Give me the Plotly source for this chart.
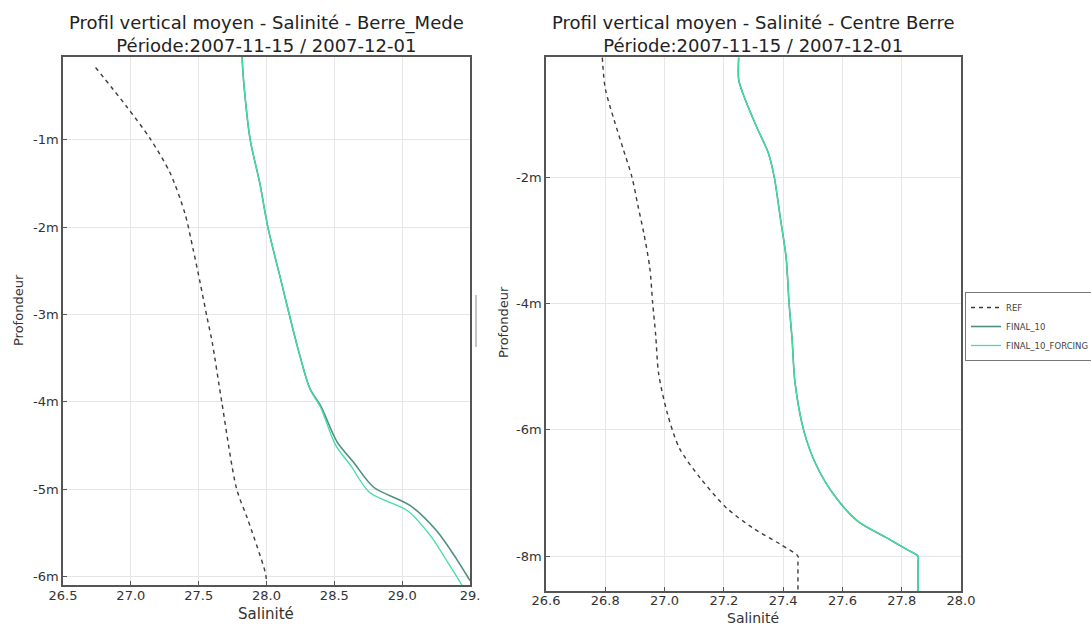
import plotly.graph_objects as go

# ---------------- data ----------------
# Left panel: Berre_Mede
mede_ref_sal = [26.74, 26.97, 27.14, 27.29, 27.40, 27.46, 27.51, 27.56, 27.60, 27.67, 27.78, 27.86, 27.99, 28.00]
mede_ref_dep = [-0.17, -0.62, -0.98, -1.38, -1.85, -2.26, -2.63, -3.02, -3.32, -4.00, -5.00, -5.34, -5.95, -6.05]

mede_f10_sal = [27.82, 27.83, 27.88, 27.95, 28.01, 28.10, 28.23, 28.32, 28.40, 28.52, 28.64, 28.79, 29.06, 29.26, 29.40, 29.50]
mede_f10_dep = [-0.05, -0.30, -1.00, -1.49, -2.00, -2.57, -3.38, -3.85, -4.05, -4.46, -4.69, -4.98, -5.19, -5.49, -5.80, -6.05]

mede_ff_sal = [27.82, 27.83, 27.88, 27.95, 28.01, 28.10, 28.23, 28.32, 28.40, 28.51, 28.62, 28.76, 29.04, 29.22, 29.34, 29.44]
mede_ff_dep = [-0.05, -0.30, -1.00, -1.49, -2.00, -2.57, -3.38, -3.85, -4.07, -4.50, -4.73, -5.04, -5.25, -5.56, -5.85, -6.10]

# Right panel: Centre Berre
centre_ref_sal = [26.79, 26.80, 26.83, 26.86, 26.89, 26.91, 26.93, 26.95, 26.96, 26.97, 26.98, 27.01, 27.05, 27.12, 27.21, 27.30, 27.39, 27.45, 27.45, 27.45]
centre_ref_dep = [-0.11, -0.60, -1.10, -1.55, -2.00, -2.45, -2.89, -3.43, -4.00, -4.50, -5.11, -5.75, -6.29, -6.76, -7.24, -7.56, -7.81, -8.00, -8.10, -8.55]

centre_f10_sal = [27.25, 27.25, 27.27, 27.31, 27.35, 27.37, 27.39, 27.41, 27.42, 27.43, 27.44, 27.47, 27.51, 27.57, 27.65, 27.75, 27.82, 27.855, 27.855, 27.855]
centre_f10_dep = [-0.11, -0.46, -0.75, -1.20, -1.62, -2.00, -2.63, -3.27, -4.00, -4.55, -5.25, -6.02, -6.54, -7.02, -7.44, -7.71, -7.90, -8.00, -8.10, -8.55]

centre_ff_sal = centre_f10_sal
centre_ff_dep = centre_f10_dep

series_names = ["REF", "FINAL_10", "FINAL_10_FORCING"]

left_xtickvals = [26.5, 27.0, 27.5, 28.0, 28.5, 29.0, 29.5]
left_xticktext = ["26.5", "27.0", "27.5", "28.0", "28.5", "29.0", "29."]
left_ytickvals = [-1, -2, -3, -4, -5, -6]
left_yticktext = ["-1m", "-2m", "-3m", "-4m", "-5m", "-6m"]

right_xtickvals = [26.6, 26.8, 27.0, 27.2, 27.4, 27.6, 27.8, 28.0]
right_xticktext = ["26.6", "26.8", "27.0", "27.2", "27.4", "27.6", "27.8", "28.0"]
right_ytickvals = [-2, -4, -6, -8]
right_yticktext = ["-2m", "-4m", "-6m", "-8m"]

title_left = "Profil vertical moyen - Salinité - Berre_Mede<br>Période:2007-11-15 / 2007-12-01"
title_right = "Profil vertical moyen - Salinité - Centre Berre<br>Période:2007-11-15 / 2007-12-01"
xlabel = "Salinité"
ylabel = "Profondeur"

# ---------------- figure ----------------
W, H = 1091, 626
REF_COLOR = "#3c3c3c"
F10_COLOR = "#4f8f80"
FF_COLOR = "#3fe0a0"
FONT = "DejaVu Sans"

fig = go.Figure()

def add_panel(xa, ya, ref, f10, ff, show):
    fig.add_trace(go.Scatter(x=ref[0], y=ref[1], mode="lines", name=series_names[0],
                             line=dict(color=REF_COLOR, width=1.4, dash="4px,4px",
                                       shape="spline", smoothing=0.8),
                             xaxis=xa, yaxis=ya, showlegend=show))
    fig.add_trace(go.Scatter(x=f10[0], y=f10[1], mode="lines", name=series_names[1],
                             line=dict(color=F10_COLOR, width=1.6, shape="spline", smoothing=0.8),
                             xaxis=xa, yaxis=ya, showlegend=show))
    fig.add_trace(go.Scatter(x=ff[0], y=ff[1], mode="lines", name=series_names[2],
                             line=dict(color=FF_COLOR, width=1.3, shape="spline", smoothing=0.8),
                             xaxis=xa, yaxis=ya, showlegend=show))

add_panel("x", "y", (mede_ref_sal, mede_ref_dep), (mede_f10_sal, mede_f10_dep), (mede_ff_sal, mede_ff_dep), False)
add_panel("x2", "y2", (centre_ref_sal, centre_ref_dep), (centre_f10_sal, centre_f10_dep), (centre_ff_sal, centre_ff_dep), True)

def px_x(p):
    return p / W

def px_y(p):
    return 1 - p / H

axis_common = dict(showline=True, linecolor="#555", linewidth=1.5, mirror=True,
                   showgrid=True, gridcolor="#e6e6e6", gridwidth=1,
                   ticks="inside", ticklen=4, tickcolor="#555",
                   tickfont=dict(family=FONT, size=13, color="#333"),
                   zeroline=False, tickmode="array", automargin=False)

fig.update_layout(
    width=W, height=H,
    margin=dict(l=0, r=0, t=0, b=0, autoexpand=False),
    paper_bgcolor="white", plot_bgcolor="white",
    font=dict(family=FONT, color="#333"),
    xaxis=dict(domain=[px_x(63), px_x(470)], anchor="y", range=[26.5, 29.5],
               tickvals=left_xtickvals, ticktext=left_xticktext, ticklabelstandoff=-2,
               **axis_common),
    yaxis=dict(domain=[px_y(585), px_y(57)], anchor="x", range=[-6.1, -0.05],
               tickvals=left_ytickvals, ticktext=left_yticktext, **axis_common),
    xaxis2=dict(domain=[px_x(546), px_x(961)], anchor="y2", range=[26.6, 28.0],
                tickvals=right_xtickvals, ticktext=right_xticktext, ticklabelstandoff=-3,
                **axis_common),
    yaxis2=dict(domain=[px_y(591), px_y(57)], anchor="x2", range=[-8.55, -0.1],
                tickvals=right_ytickvals, ticktext=right_yticktext, **axis_common),
    legend=dict(x=px_x(965), y=px_y(292), xanchor="left", yanchor="top",
                bgcolor="white", bordercolor="#777", borderwidth=1,
                font=dict(family=FONT, size=8.5, color="#444"),
                itemwidth=30, tracegroupgap=0),
    showlegend=True,
)

def ann(text, x, y, size, angle=0, xanchor="center", yanchor="middle", color="#333"):
    fig.add_annotation(text=text, x=px_x(x), y=px_y(y), xref="paper", yref="paper",
                       xanchor=xanchor, yanchor=yanchor, showarrow=False, textangle=angle,
                       font=dict(family=FONT, size=size, color=color))

ann(title_left, 266, 10, 18, yanchor="top", color="#222")
ann(title_right, 753, 10, 18, yanchor="top", color="#222")
ann(xlabel, 266, 614, 15)
ann(xlabel, 753, 618, 14)
ann(ylabel, 18, 310, 13, angle=-90)
ann(ylabel, 503, 322, 13, angle=-90)

fig.add_shape(type="line", xref="paper", yref="paper",
              x0=px_x(476), x1=px_x(476), y0=px_y(295), y1=px_y(347),
              line=dict(color="#888", width=1))

fig.write_html("out.html", config={"displayModeBar": False},
               post_script="document.body.style.margin='0';document.body.style.overflow='hidden';")
